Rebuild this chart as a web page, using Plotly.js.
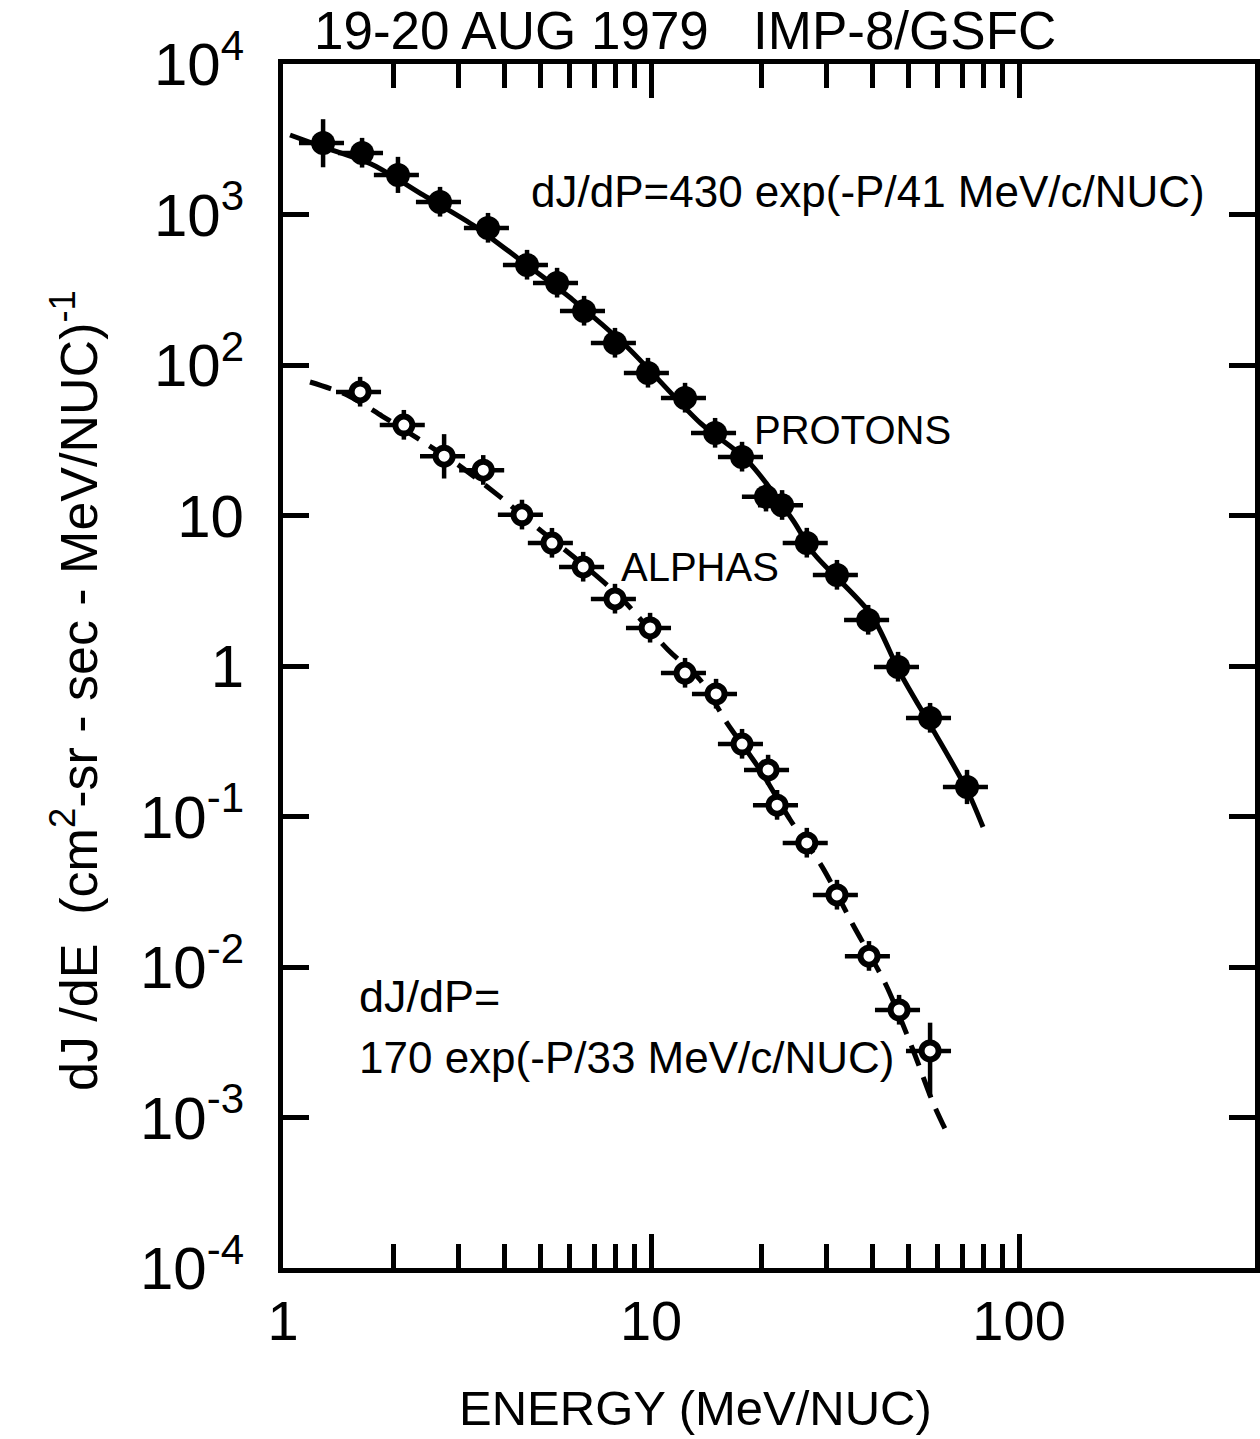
<!DOCTYPE html>
<html><head><meta charset="utf-8">
<script src="https://cdn.plot.ly/plotly-3.0.1.min.js"></script>
<style>html,body{margin:0;padding:0;background:#fff}</style>
</head><body><div id="chart" style="width:1260px;height:1439px"></div>
<script>
// ---- data ----
const protonEnergy = [1.285, 1.64, 2.053, 2.671, 3.606, 4.603, 5.555, 6.577, 7.98, 9.81, 12.37, 14.93, 17.67, 20.53, 22.7, 26.5, 32.0, 38.9, 46.9, 57.3, 72.2];
const protonFlux   = [2985, 2563, 1830, 1211, 813, 462, 351, 228.5, 140, 88.5, 60.4, 35.3, 24.5, 13.3, 11.7, 6.57, 4.02, 2.02, 0.985, 0.451, 0.157];
const protonErrUpPct   = [44, 26, 32, 26, 26, 26, 26, 26, 26, 26, 26, 26, 26, 26, 26, 26, 26, 26, 26, 26, 30];
const protonErrDownPct = [31, 20, 24, 20, 20, 20, 20, 20, 20, 20, 20, 20, 20, 20, 20, 20, 20, 20, 20, 20, 23];

const alphaEnergy = [1.62, 2.13, 2.74, 3.50, 4.46, 5.38, 6.54, 7.98, 9.94, 12.37, 15.02, 17.67, 20.8, 22.0, 26.5, 32.0, 39.1, 47.2, 57.3];
const alphaFlux   = [66.2, 39.9, 24.8, 20.0, 10.1, 6.56, 4.55, 2.79, 1.79, 0.898, 0.652, 0.303, 0.204, 0.119, 0.0667, 0.0301, 0.0118, 0.00518, 0.00277];
const alphaErrUpPct   = [26, 26, 40, 26, 26, 26, 26, 26, 26, 26, 26, 26, 26, 26, 26, 26, 26, 26, 54];
const alphaErrDownPct = [20, 20, 29, 20, 20, 20, 20, 20, 20, 20, 20, 20, 20, 20, 20, 20, 20, 20, 50];

const protonFitEnergy = [1.045, 1.285, 1.757, 2.401, 3.283, 4.488, 6.14, 8.61, 13.6, 18.2, 24.3, 27.6, 39.6, 47.5, 58.4, 72.2, 79.8];
const protonFitFlux   = [3375, 2809, 2133, 1348, 851, 483, 270, 131.7, 41.2, 23.4, 9.3, 5.64, 2.2, 0.898, 0.376, 0.15, 0.0851];

const alphaFitEnergy = [1.184, 1.493, 1.858, 2.357, 3.025, 3.89, 4.99, 6.41, 8.24, 11.13, 13.6, 16.09, 19.78, 23.9, 29.2, 35.4, 43.5, 51.5, 58.4, 64.1];
const alphaFitFlux   = [77.1, 63.2, 45.8, 31.8, 21.3, 13.3, 8.02, 4.91, 2.87, 1.277, 0.807, 0.418, 0.204, 0.0948, 0.0461, 0.019, 0.00759, 0.00281, 0.00125, 0.000766];

const xTickVals = [1, 10, 100];
const xTickText = ['1', '10', '100'];
const xMinorTickVals = [2, 3, 4, 5, 6, 7, 8, 9, 20, 30, 40, 50, 60, 70, 80, 90];
const yTickVals = [1e-4, 1e-3, 1e-2, 1e-1, 1, 10, 100, 1000, 10000];
const yTickText = ['10<sup>-4</sup>', '10<sup>-3</sup>', '10<sup>-2</sup>', '10<sup>-1</sup>', '1', '10', '10<sup>2</sup>', '10<sup>3</sup>', '10<sup>4</sup>'];

const chartTitle = '19-20 AUG 1979   IMP-8/GSFC';
const xTitle = 'ENERGY (MeV/NUC)';
const yTitle = 'dJ /dE  (cm<sup>2</sup>-sr - sec - MeV/NUC)<sup>-1</sup>';
const protonFitLabel = 'dJ/dP=430 exp(-P/41 MeV/c/NUC)';
const alphaFitLabel1 = 'dJ/dP=';
const alphaFitLabel2 = '170 exp(-P/33 MeV/c/NUC)';
const protonLabel = 'PROTONS';
const alphaLabel = 'ALPHAS';

// ---- drawing ----
const FONT = '"Liberation Sans", Arial, sans-serif';
const INK = '#000';

function errArr(vals, pcts) { return vals.map((v, i) => v * pcts[i] / 100); }

const traces = [
  { x: protonFitEnergy, y: protonFitFlux, mode: 'lines', type: 'scatter',
    line: { color: INK, width: 5, shape: 'spline', smoothing: 0.8 } },
  { x: alphaFitEnergy, y: alphaFitFlux, mode: 'lines', type: 'scatter',
    line: { color: INK, width: 5, dash: '22px,12px', shape: 'spline', smoothing: 0.8 } },
  { x: protonEnergy, y: protonFlux, mode: 'markers', type: 'scatter',
    marker: { symbol: 'circle', size: 24, color: INK },
    error_x: { type: 'percent', value: 14, width: 0, thickness: 4.5, color: INK },
    error_y: { type: 'data', symmetric: false, array: errArr(protonFlux, protonErrUpPct),
               arrayminus: errArr(protonFlux, protonErrDownPct), width: 0, thickness: 4.5, color: INK } },
  { x: alphaEnergy, y: alphaFlux, mode: 'markers', type: 'scatter',
    marker: { symbol: 'circle', size: 17, color: '#fff', line: { color: INK, width: 6 } },
    error_x: { type: 'percent', value: 14, width: 0, thickness: 4.5, color: INK },
    error_y: { type: 'data', symmetric: false, array: errArr(alphaFlux, alphaErrUpPct),
               arrayminus: errArr(alphaFlux, alphaErrDownPct), width: 0, thickness: 4.5, color: INK } }
];

const ann = (text, x, y, size, xanchor, extra) => Object.assign({
  text: text, x: x, y: y, xref: 'paper', yref: 'paper', showarrow: false,
  xanchor: xanchor || 'center', yanchor: 'middle', font: { family: FONT, size: size, color: INK }
}, extra || {});

const layout = {
  width: 1260, height: 1439,
  margin: { l: 283, r: 5, t: 64, b: 171 },
  paper_bgcolor: '#fff', plot_bgcolor: '#fff',
  showlegend: false, hovermode: false,
  font: { family: FONT, color: INK },
  xaxis: {
    type: 'log', range: [0, 2.641],
    tickvals: xTickVals, ticktext: xTickText,
    ticks: 'inside', ticklen: 34, tickwidth: 5, tickcolor: INK,
    showline: true, linewidth: 5, linecolor: INK, mirror: 'allticks',
    showgrid: false, zeroline: false,
    tickfont: { family: FONT, size: 56, color: INK }, ticklabelstandoff: 0,
    minor: { tickvals: xMinorTickVals, ticks: 'inside', ticklen: 24, tickwidth: 5, tickcolor: INK, showgrid: false }
  },
  yaxis: {
    type: 'log', range: [-4, 4],
    tickvals: yTickVals, ticktext: yTickText,
    ticks: 'inside', ticklen: 26, tickwidth: 5, tickcolor: INK,
    showline: true, linewidth: 5, linecolor: INK, mirror: 'allticks',
    showgrid: false, zeroline: false,
    tickfont: { family: FONT, size: 60, color: INK }, ticklabelstandoff: 22
  },
  annotations: [
    ann(chartTitle, 0.4136, 1.0282, 53),
    ann(xTitle, 0.4239, -0.1163, 49),
    ann(yTitle, -0.214, 0.48, 52, 'center', { textangle: -90 }),
    ann(protonFitLabel, 0.6019, 0.8937, 44),
    ann(protonLabel, 0.5854, 0.696, 40),
    ann(alphaLabel, 0.429, 0.5822, 40),
    ann(alphaFitLabel1, 0.0761, 0.2251, 45, 'left'),
    ann(alphaFitLabel2, 0.0761, 0.1752, 44, 'left')
  ]
};

Plotly.newPlot('chart', traces, layout, { staticPlot: true, displayModeBar: false });
</script></body></html>
